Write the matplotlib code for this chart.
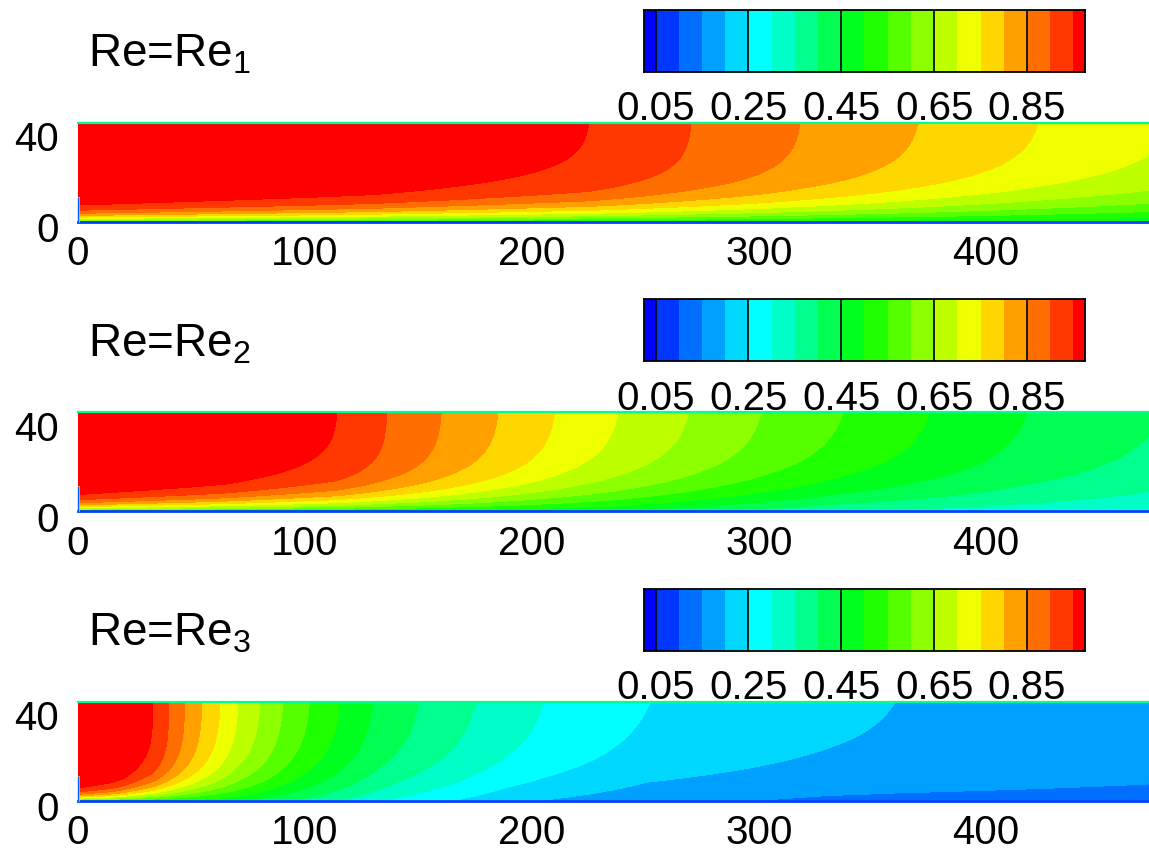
import numpy as np
import matplotlib
matplotlib.use('Agg')
import matplotlib.pyplot as plt
from matplotlib.patches import Rectangle
import matplotlib.transforms as mtransforms

plt.rcParams['font.family'] = ['Liberation Sans', 'DejaVu Sans']
plt.rcParams['mathtext.fontset'] = 'custom'
plt.rcParams['mathtext.rm'] = 'Liberation Sans'

W, H = 1149, 852

# 等值线分级 (0.05 间隔) 与各区间颜色
levels = [0.05, 0.10, 0.15, 0.20, 0.25, 0.30, 0.35, 0.40, 0.45, 0.50,
          0.55, 0.60, 0.65, 0.70, 0.75, 0.80, 0.85, 0.90, 0.95]
band_colors = ['#0000ff', '#0037ff', '#006eff', '#00a0ff', '#00d7ff',
               '#00ffff', '#00ffc8', '#00ff8c', '#00ff50', '#00ff1e',
               '#1eff00', '#55ff00', '#8cff00', '#beff00', '#f0ff00',
               '#ffd700', '#ffa000', '#ff6e00', '#ff3700', '#ff0000']
cbar_ticks = [0.05, 0.25, 0.45, 0.65, 0.85]
x_ticks = [0, 100, 200, 300, 400]
y_ticks = [0, 40]

# Re1: 上边界数值、近壁数值、近壁层厚度
re1_top_x = [0, 130, 225, 270, 318, 370, 423, 472]
re1_top_val = [1.0, 0.99, 0.95, 0.90, 0.85, 0.80, 0.75, 0.71]
re1_wall_x = [0, 200, 472]
re1_wall_val = [0.55, 0.50, 0.46]
re1_layer_x = [0, 100, 300, 472]
re1_layer_h = [3.3, 4.4, 7.0, 10.0]

# Re2
re2_top_x = [0, 65, 114, 136, 160, 185, 210, 238, 269, 301, 337, 375, 418, 472]
re2_top_val = [1.0, 0.99, 0.95, 0.90, 0.85, 0.80, 0.75, 0.70, 0.65, 0.60,
               0.55, 0.50, 0.45, 0.405]
re2_wall_x = [0, 100, 236, 337, 472]
re2_wall_val = [0.55, 0.50, 0.45, 0.35, 0.30]
re2_layer_x = [0, 50, 150, 236, 472]
re2_layer_h = [3.3, 4.4, 7.0, 10.0, 14.0]

# Re3
re3_top_x = [0, 20, 33, 40, 47, 54.6, 62.6, 70.5, 80.2, 90.3, 102, 115.4,
             130, 150, 175, 205, 252, 360, 472]
re3_top_val = [1.0, 0.99, 0.95, 0.90, 0.85, 0.80, 0.75, 0.70, 0.65, 0.60,
               0.55, 0.50, 0.45, 0.40, 0.35, 0.30, 0.25, 0.20, 0.175]
re3_wall_x = [0, 35, 70, 140, 190, 250, 330, 472]
re3_wall_val = [0.55, 0.50, 0.46, 0.29, 0.21, 0.165, 0.14, 0.128]
re3_layer_x = [0, 15, 45, 70, 140, 250, 360, 472]
re3_layer_h = [2.5, 3.3, 7.0, 10.0, 14.0, 17.0, 16.0, 12.0]

panels = [
    ('1', re1_top_x, re1_top_val, re1_wall_x, re1_wall_val, re1_layer_x, re1_layer_h),
    ('2', re2_top_x, re2_top_val, re2_wall_x, re2_wall_val, re2_layer_x, re2_layer_h),
    ('3', re3_top_x, re3_top_val, re3_wall_x, re3_wall_val, re3_layer_x, re3_layer_h),
]

px_per_unit = 2.27
x_max = (W - 78) / px_per_unit
y_max = 98.8 / px_per_unit
panel_step = 289.5


def px_rect(left, top, right, bottom):
    return [left / W, 1 - bottom / H, (right - left) / W, (bottom - top) / H]


def build_field(top_x, top_val, wall_x, wall_val, layer_x, layer_h):
    xs = np.linspace(0, x_max, 1400)
    ys = np.linspace(0, y_max, 400)
    X, Y = np.meshgrid(xs, ys)
    top = np.interp(X, top_x, top_val)
    wall = np.interp(X, wall_x, wall_val)
    d = np.interp(X, layer_x, layer_h)
    shape = (np.exp(-Y / d) - np.exp(-y_max / d)) / (1 - np.exp(-y_max / d))
    return X, Y, top - (top - wall) * shape


def draw_colorbar(fig, rect):
    cax = fig.add_axes(rect)
    edges = [0.025] + levels + [0.975]
    for i, c in enumerate(band_colors):
        cax.add_patch(Rectangle((edges[i], 0), edges[i + 1] - edges[i], 1,
                                facecolor=c, edgecolor='none'))
    for t in cbar_ticks:
        cax.axvline(t, color='black', lw=1.2)
    cax.set_xlim(0.025, 0.975)
    cax.set_ylim(0, 1)
    cax.set_yticks([])
    cax.set_xticks(cbar_ticks)
    cax.set_xticklabels(['%.2f' % t for t in cbar_ticks])
    cax.tick_params(axis='x', length=0, pad=13, labelsize=29)
    for s in cax.spines.values():
        s.set_linewidth(1.3)
        s.set_color('black')


fig = plt.figure(figsize=(W / 100, H / 100), dpi=100)

for i, (tag, tx, tv, wx, wv, lx, lh) in enumerate(panels):
    off = i * panel_step
    ax = fig.add_axes(px_rect(78, 122.7 + off, W, 221.5 + off))
    X, Y, Z = build_field(tx, tv, wx, wv, lx, lh)
    ax.contourf(X, Y, Z, levels=[-1] + levels + [2], colors=band_colors)
    # 上下边界与入口处的细线
    ax.plot([0, x_max], [y_max, y_max], color='#00ff90', lw=1.6, clip_on=False)
    ax.plot([0, x_max], [0, 0], color='#0040ff', lw=2.0, clip_on=False)
    ax.plot([0.4, 0.4], [0, 10.5], color='#c8ff00', lw=1.2, clip_on=False)
    ax.plot([0, 0], [0, 10.5], color='#0060ff', lw=1.0, clip_on=False)
    ax.set_xlim(0, x_max)
    ax.set_ylim(0, y_max)
    ax.set_xticks(x_ticks)
    ax.set_yticks(y_ticks)
    ax.tick_params(length=0, labelsize=29)
    ax.tick_params(axis='x', pad=10)
    ax.tick_params(axis='y', pad=14)
    shift = mtransforms.ScaledTranslation(0, -4 / 72, fig.dpi_scale_trans)
    for lbl in ax.get_yticklabels():
        lbl.set_transform(lbl.get_transform() + shift)
    for s in ax.spines.values():
        s.set_visible(False)

    draw_colorbar(fig, px_rect(644, 10 + off, 1085, 72 + off))
    fig.text(88 / W, 1 - (66.7 + off) / H, r'Re=Re$_\mathregular{%s}$' % tag,
             fontsize=33, ha='left', va='baseline')

fig.savefig('out.png', dpi=100)
